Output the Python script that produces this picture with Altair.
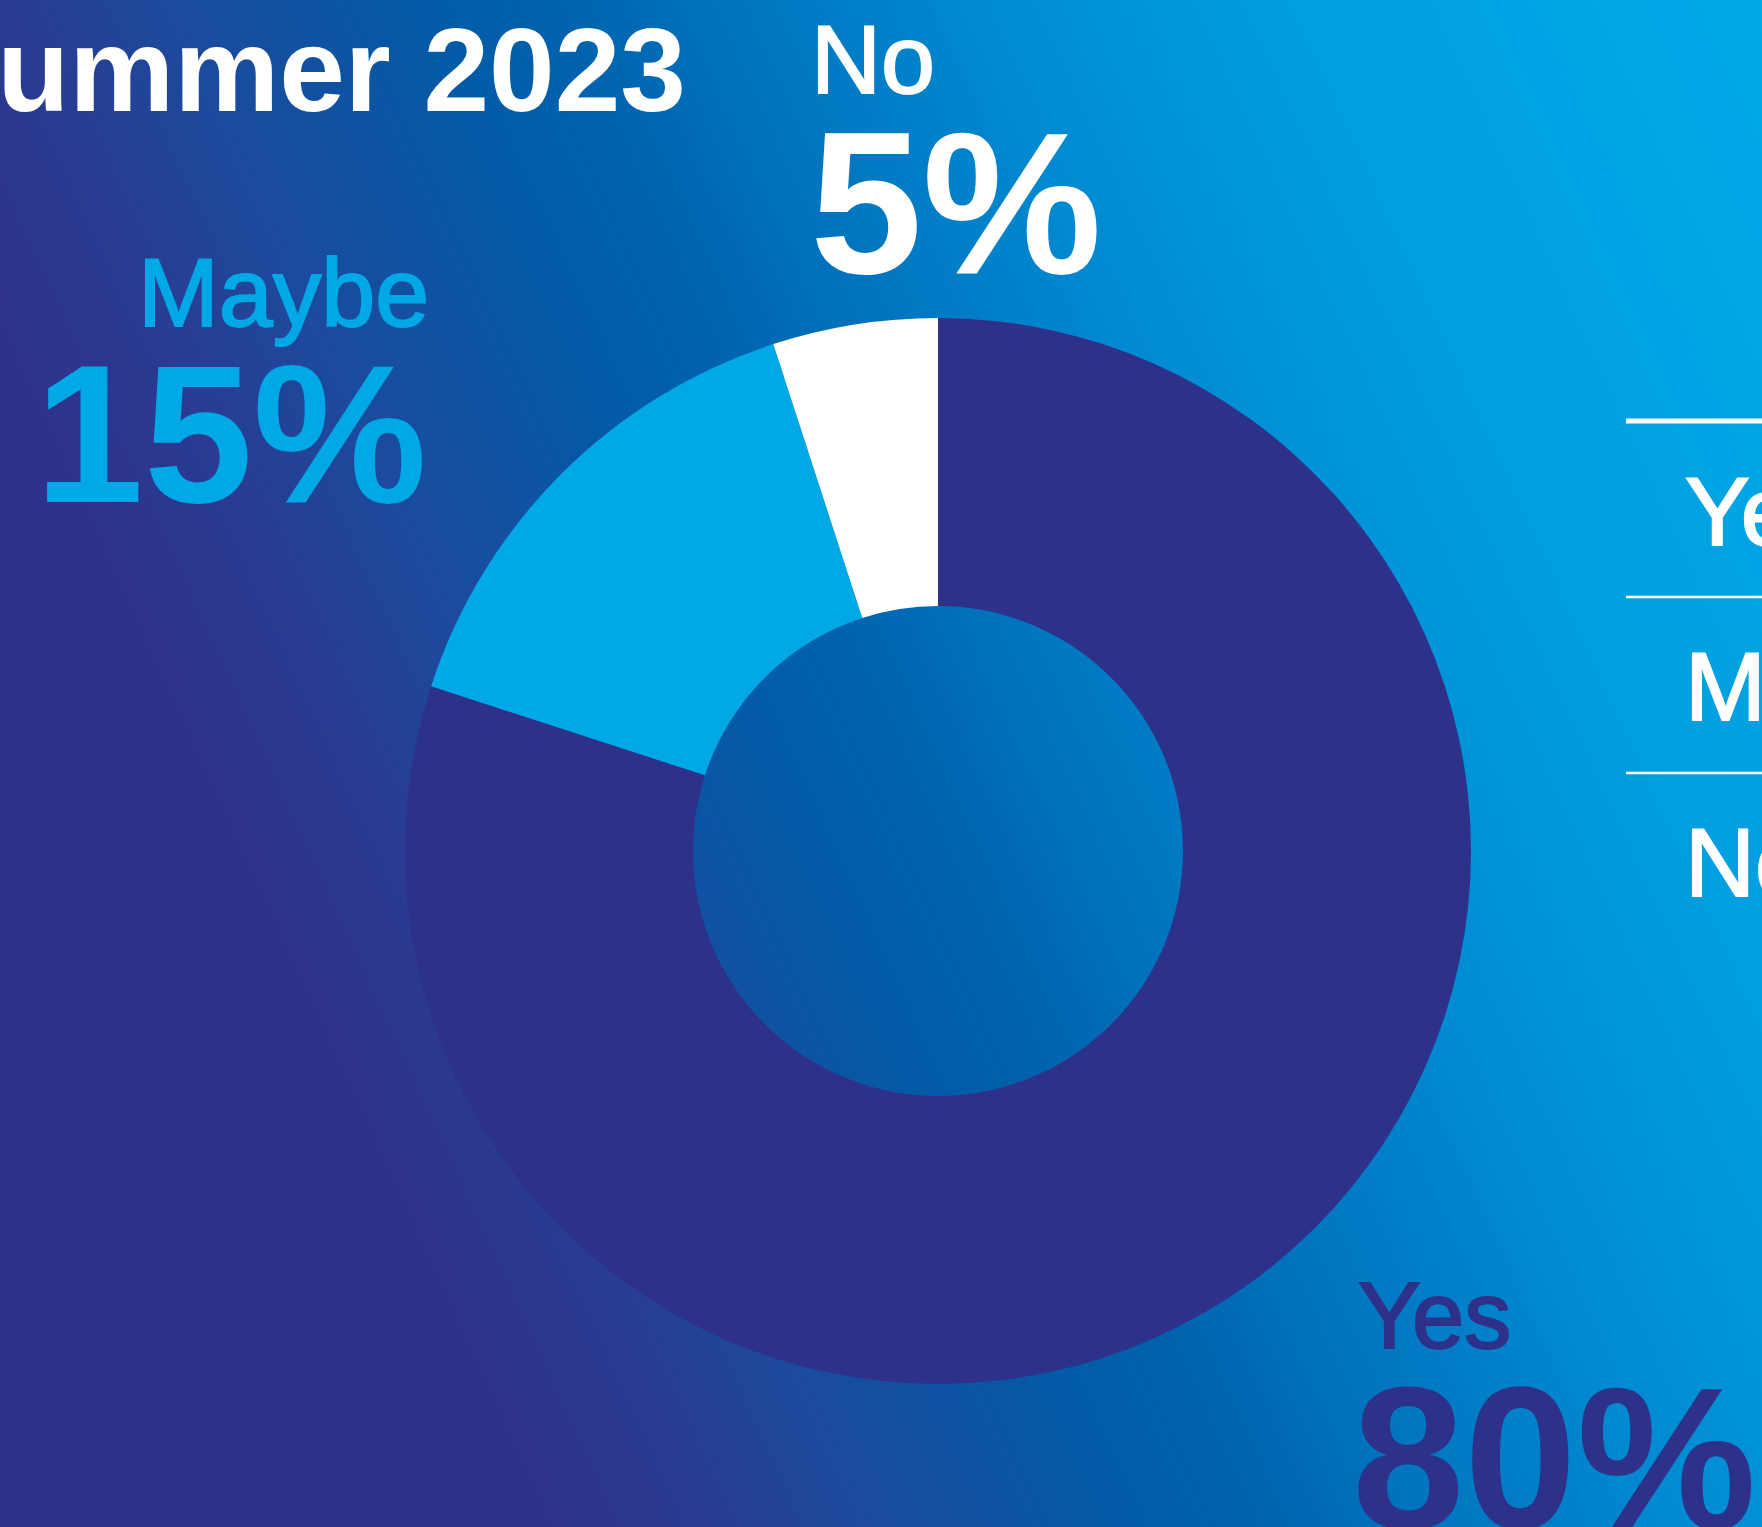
import altair as alt
import pandas as pd

# ---- data ----
categories = ["Yes", "Maybe", "No"]
shares = [80, 15, 5]
slice_colors = ["#2e3189", "#00a8e6", "#ffffff"]
title_text = "Summer 2023"

W, H = 1762, 1527
CX, CY = 938, 851
R_OUT, R_IN = 533, 245
FONT = "Liberation Sans"

df = pd.DataFrame({"cat": categories, "val": shares, "ord": list(range(len(categories)))})

# ---- background: linear gradient, dark indigo bottom-left -> cyan top-right ----
def off(tp):
    return max(0.0, min(1.0, (tp + 637) / 2239))

bg_grad = {
    "gradient": "linear",
    "x1": 0, "y1": 1, "x2": 1.207, "y2": 0.520,
    "stops": [
        {"offset": 0.0, "color": "#2e3189"},
        {"offset": off(-150), "color": "#2e3189"},
        {"offset": off(0), "color": "#2a3b92"},
        {"offset": off(150), "color": "#1c4a9c"},
        {"offset": off(380), "color": "#035aa6"},
        {"offset": off(500), "color": "#0062ae"},
        {"offset": off(640), "color": "#0072bd"},
        {"offset": off(900), "color": "#008bd2"},
        {"offset": off(1180), "color": "#009fe0"},
        {"offset": 1.0, "color": "#00a8e6"},
    ],
}

bg = alt.Chart(df.head(1)).mark_rect(fill=bg_grad, strokeWidth=0).encode(
    x=alt.value(0), x2=alt.value(W), y=alt.value(0), y2=alt.value(H)
)

donut = alt.Chart(df).mark_arc(innerRadius=R_IN, outerRadius=R_OUT, strokeWidth=0).encode(
    theta=alt.Theta("val:Q", stack=True),
    color=alt.Color("cat:N", scale=alt.Scale(domain=categories, range=slice_colors), legend=None),
    order=alt.Order("ord:Q"),
    x=alt.value(CX),
    y=alt.value(CY),
)


def label(cat, kind, x, y, size, weight, color, align="left"):
    base = alt.Chart(df).transform_filter(alt.datum.cat == cat)
    if kind == "pct":
        base = base.transform_calculate(t="datum.val + '%'")
        field = "t:N"
    else:
        field = "cat:N"
    extra = {}
    if weight != "bold":
        extra = {"stroke": color, "strokeWidth": 2}
    return base.mark_text(
        align=align, baseline="alphabetic", font=FONT, fontSize=size,
        fontWeight=weight, color=color, **extra,
    ).encode(text=field, x=alt.value(x), y=alt.value(y))


title = alt.Chart(df.head(1)).mark_text(
    align="right", baseline="alphabetic", font=FONT, fontSize=118,
    fontWeight="bold", color="white", text=title_text,
).encode(x=alt.value(686), y=alt.value(111))

texts = [
    label("No", "name", 811, 93, 97, "normal", "white"),
    label("No", "pct", 810, 273, 202, "bold", "white"),
    label("Maybe", "name", 138, 326, 97, "normal", "#00a8e6"),
    label("Maybe", "pct", 427, 502, 196, "bold", "#00a8e6", align="right"),
    label("Yes", "name", 1358, 1348, 94, "normal", "#2e3189"),
    label("Yes", "pct", 1352, 1528, 202, "bold", "#2e3189"),
]

# right-hand list (cropped at the edge)
legend_rows = []
for cat, yb in zip(categories, [545, 720, 896]):
    legend_rows.append(label(cat, "name", 1685, yb, 97, "normal", "white"))

rules = [
    alt.Chart(df.head(1)).mark_rule(color="white", strokeWidth=sw).encode(
        x=alt.value(1626), x2=alt.value(W + 10), y=alt.value(yy)
    )
    for yy, sw in [(421, 5), (597, 2.5), (773, 2.5)]
]

chart = alt.layer(bg, donut, title, *texts, *legend_rows, *rules).properties(
    width=W, height=H, autosize=alt.AutoSizeParams(type="none"), padding=0
).configure_view(stroke=None)

chart.save("out.html", embed_options={"renderer": "svg", "actions": False})
